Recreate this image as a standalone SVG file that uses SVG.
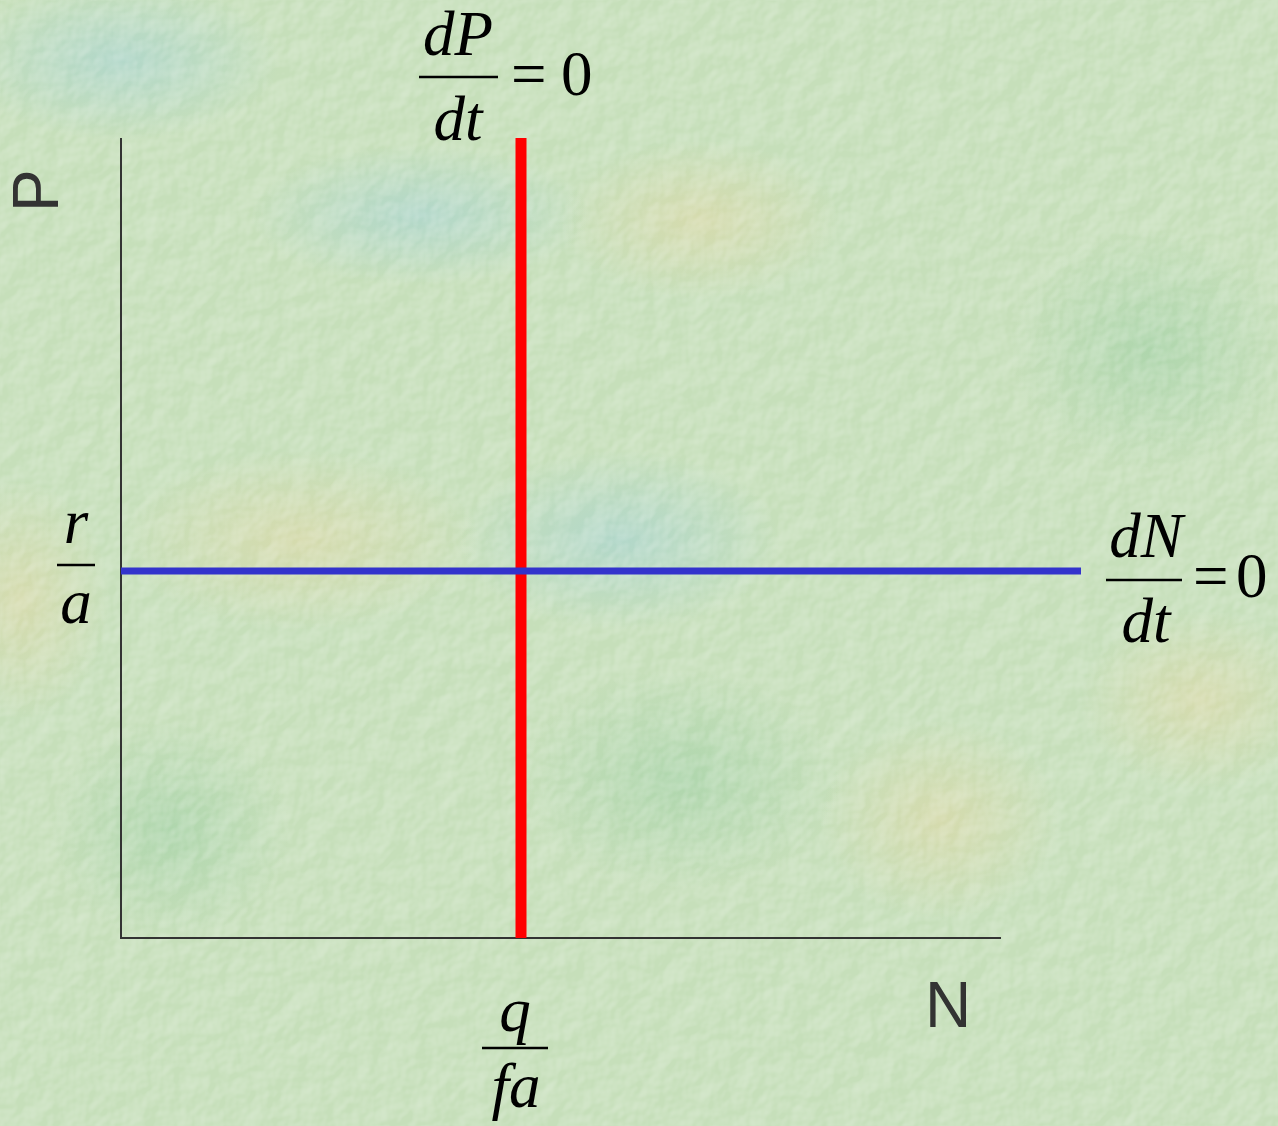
<svg xmlns="http://www.w3.org/2000/svg" width="1278" height="1126" viewBox="0 0 1278 1126">
<defs>
<style>
.m{font-family:"Liberation Serif","Times New Roman",serif;font-style:italic;font-size:63px;fill:#000}
.n{font-family:"Liberation Serif","Times New Roman",serif;font-size:63px;fill:#000}
.s{font-family:"Liberation Sans",Arial,sans-serif;font-size:64px;fill:#333}
.ax{stroke:#333;stroke-width:2;fill:none}
.fl{stroke:#000;stroke-width:2.5}
</style>
<radialGradient id="gb"><stop offset="0" stop-color="#a9d4d0" stop-opacity="0.7"/><stop offset="1" stop-color="#a9d4d0" stop-opacity="0"/></radialGradient>
<radialGradient id="gy"><stop offset="0" stop-color="#dcd9a8" stop-opacity="0.7"/><stop offset="1" stop-color="#dcd9a8" stop-opacity="0"/></radialGradient>
<radialGradient id="gg"><stop offset="0" stop-color="#9fd0a4" stop-opacity="0.6"/><stop offset="1" stop-color="#9fd0a4" stop-opacity="0"/></radialGradient>
<filter id="tex" x="0" y="0" width="100%" height="100%">
<feTurbulence type="fractalNoise" baseFrequency="0.04" numOctaves="3" seed="7" result="t"/>
<feDiffuseLighting in="t" surfaceScale="2.5" lighting-color="#ffffff" result="l"><feDistantLight azimuth="225" elevation="55"/></feDiffuseLighting>
<feColorMatrix in="l" type="matrix" values="0 0 0 0 1  0 0 0 0 1  0 0 0 0 1  1 0 0 0 -0.72"/>
</filter>
</defs>
<g id="background">
<rect width="1278" height="1126" fill="#c6dfba"/>
<ellipse cx="420" cy="215" rx="170" ry="70" fill="url(#gb)"/>
<ellipse cx="700" cy="220" rx="140" ry="80" fill="url(#gy)"/>
<ellipse cx="620" cy="540" rx="160" ry="90" fill="url(#gb)"/>
<ellipse cx="300" cy="540" rx="180" ry="90" fill="url(#gy)"/>
<ellipse cx="20" cy="600" rx="90" ry="120" fill="url(#gy)"/>
<ellipse cx="170" cy="830" rx="120" ry="110" fill="url(#gg)"/>
<ellipse cx="940" cy="820" rx="120" ry="100" fill="url(#gy)"/>
<ellipse cx="1150" cy="350" rx="140" ry="120" fill="url(#gg)"/>
<ellipse cx="1200" cy="700" rx="120" ry="90" fill="url(#gy)"/>
<ellipse cx="680" cy="780" rx="160" ry="110" fill="url(#gg)"/>
<ellipse cx="120" cy="60" rx="160" ry="80" fill="url(#gb)"/>
<rect width="1278" height="1126" filter="url(#tex)"/>
</g>
<g id="connectors">
<polyline class="ax" points="121,138 121,938 1001,938"/>
<line x1="521" y1="138" x2="521" y2="938" stroke="#ff0000" stroke-width="11"/>
<line x1="121" y1="571" x2="1081" y2="571" stroke="#3333cc" stroke-width="7"/>
</g>
<g id="label-P"><text class="s" transform="translate(58,212) rotate(-90)">P</text></g>
<g id="label-N"><text class="s" x="925" y="1027">N</text></g>
<g id="label-dPdt">
<text class="m" x="458" y="55" text-anchor="middle">dP</text>
<line class="fl" x1="419" y1="77" x2="498" y2="77"/>
<text class="m" x="458" y="140" text-anchor="middle">dt</text>
<text class="n" x="511" y="95">=</text>
<text class="n" x="561" y="95">0</text>
</g>
<g id="label-ra">
<text class="m" x="76" y="543" text-anchor="middle">r</text>
<line class="fl" x1="57" y1="565" x2="95" y2="565"/>
<text class="m" x="76" y="623" text-anchor="middle">a</text>
</g>
<g id="label-dNdt">
<text class="m" x="1146" y="557" text-anchor="middle">dN</text>
<line class="fl" x1="1106" y1="580" x2="1182" y2="580"/>
<text class="m" x="1146" y="642" text-anchor="middle">dt</text>
<text class="n" x="1193" y="597">=</text>
<text class="n" x="1236" y="597">0</text>
</g>
<g id="label-qfa">
<text class="m" x="515" y="1031" text-anchor="middle">q</text>
<line class="fl" x1="482" y1="1048" x2="548" y2="1048"/>
<text class="m" x="516" y="1107" text-anchor="middle">fa</text>
</g>
</svg>
